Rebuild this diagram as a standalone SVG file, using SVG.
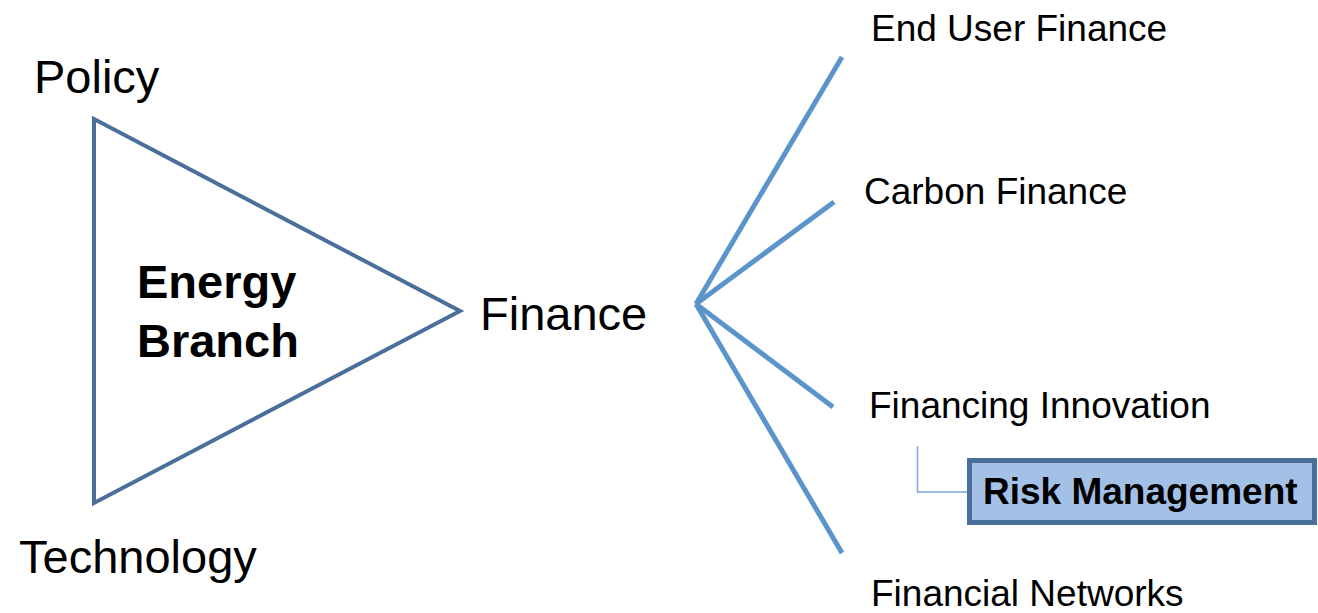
<svg xmlns="http://www.w3.org/2000/svg" width="1318" height="613" viewBox="0 0 1318 613">
<style>
.t{font-family:"Liberation Sans",Arial,sans-serif;fill:#000}
.big{font-size:47px}
.sm{font-size:37px}
.b{font-weight:bold}
.fan{stroke:#5b94cb;stroke-width:5;fill:none;stroke-linecap:butt}
</style>
<rect width="1318" height="613" fill="#fff"/>
<g id="triangle">
<polygon points="94,119 460,311 94,503" fill="#fff" stroke="#4a6f9b" stroke-width="4" stroke-linejoin="miter"/>
<text class="t big b" x="137" y="298">Energy</text>
<text class="t big b" x="137" y="357">Branch</text>
</g>
<g id="policy"><text class="t big" x="34" y="93">Policy</text></g>
<g id="technology"><text class="t big" x="19" y="573">Technology</text></g>
<g id="finance"><text class="t big" x="480" y="330">Finance</text></g>
<g id="connectors">
<line class="fan" x1="696" y1="304" x2="842" y2="57"/>
<line class="fan" x1="696" y1="304" x2="834" y2="202"/>
<line class="fan" x1="696" y1="304" x2="833" y2="407"/>
<line class="fan" x1="696" y1="304" x2="842" y2="553"/>
<polyline points="917.5,446 917.5,492 967,492" fill="none" stroke="#79a5d8" stroke-width="1.5"/>
</g>
<g id="end-user-finance"><text class="t sm" x="871" y="41">End User Finance</text></g>
<g id="carbon-finance"><text class="t sm" x="864" y="204">Carbon Finance</text></g>
<g id="financing-innovation"><text class="t sm" x="869" y="418">Financing Innovation</text></g>
<g id="financial-networks"><text class="t sm" x="871" y="606">Financial Networks</text></g>
<g id="risk-management">
<rect x="969.5" y="460.5" width="345" height="62" fill="#a3c1e7" stroke="#4a6f9b" stroke-width="5"/>
<text class="t sm b" x="983" y="504">Risk Management</text>
</g>
</svg>
